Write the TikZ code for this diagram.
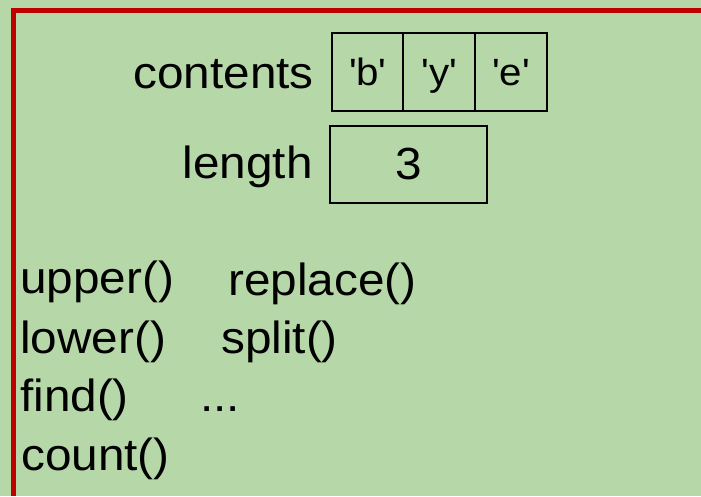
\documentclass[tikz,border=0pt]{standalone}
\usepackage{fontspec}
\setmainfont{Liberation Sans}[FakeStretch=1.06]
\definecolor{bggreen}{HTML}{B6D7A8}
\definecolor{framered}{HTML}{C00000}
\newcommand{\sq}{\textquotesingle}
\begin{document}
\begin{tikzpicture}[x=1pt,y=-1pt,
  txt/.style={inner sep=0pt,font=\fontsize{45}{54}\selectfont},
  ctxt/.style={inner sep=0pt,font=\fontsize{38}{46}\selectfont},
  cell/.style={draw=black,line width=2pt,inner sep=0pt}]
\fill[bggreen] (0,0) rectangle (701,496);
\useasboundingbox (0,0) rectangle (701,496);
\draw[framered,line width=5pt] (13.2,496) -- (13.2,10.8) -- (701,10.8);
% contents cells
\node[cell,minimum width=71.6pt,minimum height=77.4pt] (c1) at (367.5,72) {};
\node[cell,minimum width=71.6pt,minimum height=77.4pt] (c2) at (439.2,72) {};
\node[cell,minimum width=71.6pt,minimum height=77.4pt] (c3) at (511,72) {};
\node[cell,minimum width=156.7pt,minimum height=77.3pt] (len) at (408.3,164.7) {};
\node[ctxt,anchor=base] (tb) at (367.5,85) {\sq b\sq};
\node[ctxt,anchor=base] (ty) at (439.2,85) {\sq y\sq};
\node[ctxt,anchor=base] (te) at (511,85) {\sq e\sq};
\node[txt,anchor=base] (t3) at (408.3,179.5) {3};
\node[txt,anchor=base east] (lc) at (314,88.3) {contents};
\node[txt,anchor=base east] (ll) at (313,178.3) {length};
% methods
\node[txt,anchor=base west] (m1) at (20,293.3) {upper()};
\node[txt,anchor=base west] (m2) at (20,353.3) {lower()};
\node[txt,anchor=base west] (m3) at (20,411) {find()};
\node[txt,anchor=base west] (m4) at (21,470) {count()};
\node[txt,anchor=base west] (m5) at (228,295) {replace()};
\node[txt,anchor=base west] (m6) at (221,353.3) {split()};
\node[txt,anchor=base west] (m7) at (200,411) {...};
\end{tikzpicture}
\end{document}
